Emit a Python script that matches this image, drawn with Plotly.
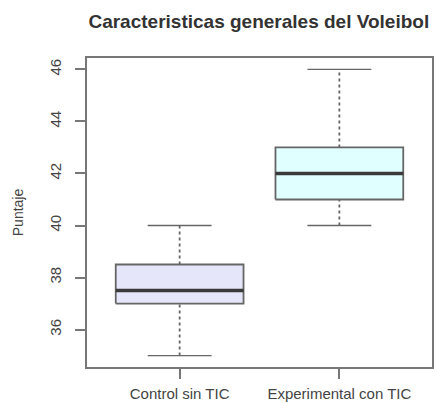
import plotly.graph_objects as go

groups = ["Control sin TIC", "Experimental con TIC"]
mins = [35, 40]
q1s = [37, 41]
medians = [37.5, 42]
q3s = [38.5, 43]
maxs = [40, 46]
fills = ["#E6E6FA", "#E0FFFF"]
yticks = [36, 38, 40, 42, 44, 46]

fig = go.Figure()
hw = 0.4
cw = 0.2
edge = "#666666"
for i, g in enumerate(groups):
    x = i + 1
    # whiskers (dotted)
    fig.add_trace(go.Scatter(x=[x, x], y=[q3s[i], maxs[i]], mode="lines",
                             line=dict(color=edge, width=1.8, dash="dot"), showlegend=False, hoverinfo="skip"))
    fig.add_trace(go.Scatter(x=[x, x], y=[mins[i], q1s[i]], mode="lines",
                             line=dict(color=edge, width=1.8, dash="dot"), showlegend=False, hoverinfo="skip"))
    # caps
    fig.add_trace(go.Scatter(x=[x - cw, x + cw], y=[maxs[i], maxs[i]], mode="lines",
                             line=dict(color=edge, width=1.3), showlegend=False, hoverinfo="skip"))
    fig.add_trace(go.Scatter(x=[x - cw, x + cw], y=[mins[i], mins[i]], mode="lines",
                             line=dict(color=edge, width=1.3), showlegend=False, hoverinfo="skip"))
    # box
    fig.add_trace(go.Scatter(x=[x - hw, x + hw, x + hw, x - hw, x - hw],
                             y=[q1s[i], q1s[i], q3s[i], q3s[i], q1s[i]],
                             mode="lines", fill="toself", fillcolor=fills[i],
                             line=dict(color=edge, width=1.8), showlegend=False, name=g))
    # median
    fig.add_trace(go.Scatter(x=[x - hw, x + hw], y=[medians[i], medians[i]], mode="lines",
                             line=dict(color="#3a3a3a", width=3.5), showlegend=False, hoverinfo="skip"))

fig.update_layout(
    width=435, height=403,
    margin=dict(l=87, r=3, t=58, b=36),
    plot_bgcolor="white", paper_bgcolor="white",
    font=dict(family="Liberation Sans, Arial", size=14, color="#444"),
    title=dict(text="<b>Caracteristicas generales del Voleibol</b>", x=0.595, xanchor="center",
               y=0.947, yanchor="middle", font=dict(size=19, color="#333")),
)
fig.update_xaxes(range=[0.42, 2.58], tickvals=[1, 2], ticktext=groups, automargin=False,
                 showline=True, mirror=True, linecolor="#777", linewidth=1.5,
                 ticks="outside", ticklen=10, tickcolor="#777", tickwidth=1.5, showgrid=False, zeroline=False,
                 ticklabelstandoff=2,
                 tickfont=dict(size=15, color="#444"))
fig.update_yaxes(range=[34.56, 46.44], tickvals=yticks, automargin=False,
                 showline=True, mirror=True, linecolor="#777", linewidth=1.5,
                 ticks="outside", ticklen=10, tickcolor="#777", tickwidth=1.5, showgrid=False, zeroline=False,
                 tickangle=-90, tickfont=dict(size=15, color="#444"), ticklabelstandoff=8,
                 title=dict(text="Puntaje", font=dict(size=14, color="#444"), standoff=20))

fig.write_html("out.html")
